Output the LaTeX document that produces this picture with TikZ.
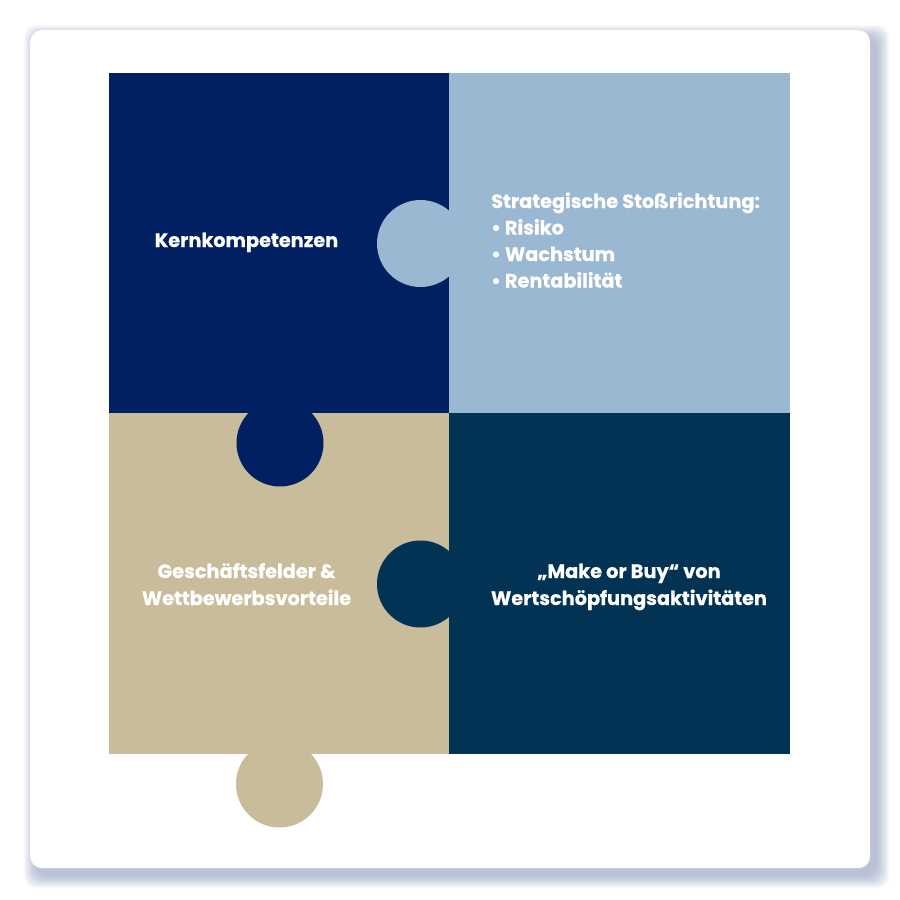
\documentclass[tikz,border=0pt]{standalone}
\usepackage{fontspec}
\setmainfont{Poppins}
\definecolor{navy}{HTML}{002062}
\definecolor{lightb}{HTML}{9BB8D3}
\definecolor{beige}{HTML}{C8BC9A}
\definecolor{teal}{HTML}{023254}
\definecolor{shadowc}{HTML}{7F8BB5}
\begin{document}
\begin{tikzpicture}[x=1pt,y=-1pt,
  tile/.style={draw=none,inner sep=0pt,outer sep=0pt,minimum width=340.5pt,minimum height=341pt,anchor=north west},
  knob/.style={circle,draw=none,inner sep=0pt,outer sep=0pt,minimum size=87pt},
  lbl/.style={text=white,font=\fontsize{19.3}{26.5}\selectfont\bfseries\addfontfeatures{FakeBold=0.5},inner sep=0pt}]
\useasboundingbox (0,0) rectangle (900,900);
\fill[white] (0,0) rectangle (900,900);
% shadow
\foreach \i in {1,...,13}{
  \fill[shadowc,opacity=0.05,rounded corners=12pt] (30+7-\i,30+8-\i) rectangle (870+6+\i,868+7+\i);
}
\node[draw=none,fill=white,rounded corners=12pt,inner sep=0pt,minimum width=840pt,minimum height=838pt,anchor=north west] (card) at (30,30) {};
% tiles
\node[tile,fill=navy] (tl) at (109,72.5) {};
\node[tile,fill=lightb] (tr) at (449,72.5) {};
\node[tile,fill=beige] (bl) at (109,413) {};
\node[tile,fill=teal] (br) at (449,413) {};
% knobs
\node[knob,fill=lightb] (k1) at (420.5,243.5) {};
\node[knob,fill=navy] (k2) at (280,443) {};
\node[knob,fill=teal] (k3) at (420.5,584) {};
\node[knob,fill=beige] (k4) at (279.5,784) {};
% labels
\node[lbl,anchor=base] (t1) at (246.5,247) {Kernkompetenzen};
\node[lbl,anchor=base west] (t2a) at (491,208) {Strategische Stoßrichtung:};
\node[lbl,anchor=base west] (t2b) at (491,234.5) {• Risiko};
\node[lbl,anchor=base west] (t2c) at (491,261) {• Wachstum};
\node[lbl,anchor=base west] (t2d) at (491,287.5) {• Rentabilität};
\node[lbl,anchor=base] (t3a) at (246.5,578) {Geschäftsfelder \&};
\node[lbl,anchor=base] (t3b) at (246.5,605) {Wettbewerbsvorteile};
\node[lbl,anchor=base] (t4a) at (629,578) {„Make or Buy“ von};
\node[lbl,anchor=base] (t4b) at (629,605) {Wertschöpfungsaktivitäten};
\end{tikzpicture}
\end{document}
